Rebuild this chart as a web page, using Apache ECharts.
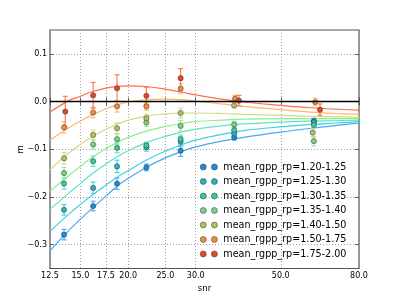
<!DOCTYPE html>
<html><head><meta charset="utf-8">
<script src="https://cdn.jsdelivr.net/npm/echarts@6/dist/echarts.min.js"></script>
<style>html,body{margin:0;padding:0;background:#fff}#c{width:399px;height:299px}</style>
</head><body><div id="c"></div>
<script>
// ---- data ----
const xTicks = [12.5, 15.0, 17.5, 20.0, 25.0, 30.0, 50.0, 80.0];
const yTicks = [-0.3, -0.2, -0.1, 0.0, 0.1];
const seriesNames = ['mean_rgpp_rp=1.20-1.25','mean_rgpp_rp=1.25-1.30','mean_rgpp_rp=1.30-1.35','mean_rgpp_rp=1.35-1.40','mean_rgpp_rp=1.40-1.50','mean_rgpp_rp=1.50-1.75','mean_rgpp_rp=1.75-2.00'];

const snr_120 = [13.6, 16.2, 18.7, 22.3, 27.4, 37.8, 61.0];
const m_120   = [-0.279, -0.219, -0.172, -0.138, -0.103, -0.075, -0.041];
const err_120 = [0.011, 0.010, 0.012, 0.007, 0.012, 0.006, 0.006];

const snr_125 = [13.6, 16.2, 18.7, 22.3, 27.4, 37.8, 61.0];
const m_125   = [-0.227, -0.181, -0.136, -0.096, -0.084, -0.067, -0.043];
const err_125 = [0.011, 0.012, 0.013, 0.008, 0.010, 0.006, 0.006];

const snr_130 = [13.6, 16.2, 18.7, 22.3, 27.4, 37.8, 61.0];
const m_130   = [-0.172, -0.125, -0.097, -0.092, -0.079, -0.060, -0.049];
const err_130 = [0.012, 0.011, 0.010, 0.007, 0.009, 0.006, 0.007];

const snr_135 = [13.6, 16.2, 18.7, 22.3, 27.4, 37.8, 61.0];
const m_135   = [-0.150, -0.090, -0.079, -0.044, -0.051, -0.048, -0.083];
const err_135 = [0.012, 0.010, 0.011, 0.008, 0.011, 0.007, 0.010];

const snr_140 = [13.6, 16.2, 18.7, 22.3, 27.4, 37.8, 60.6];
const m_140   = [-0.119, -0.070, -0.056, -0.035, -0.024, -0.008, -0.065];
const err_140 = [0.012, 0.010, 0.011, 0.008, 0.010, 0.006, 0.010];

const snr_150 = [13.6, 16.2, 18.7, 22.3, 27.4, 38.0, 61.5];
const m_150   = [-0.054, -0.023, -0.010, -0.010, 0.027, 0.006, -0.001];
const err_150 = [0.012, 0.011, 0.012, 0.008, 0.010, 0.007, 0.008];

const snr_175 = [13.7, 16.2, 18.7, 22.3, 27.4, 38.9, 63.3];
const m_175   = [-0.021, 0.013, 0.028, 0.012, 0.049, 0.002, -0.017];
const err_175 = [0.032, 0.027, 0.028, 0.018, 0.020, 0.011, 0.012];

// fitted curves, sampled at these snr values
const curveSnr  = [12.5, 14, 15, 16, 17.5, 18.75, 20, 22.5, 25, 27.5, 30, 35, 40, 50, 60, 70, 80];
const curve_120 = [-0.313, -0.270, -0.247, -0.226, -0.198, -0.177, -0.161, -0.136, -0.118, -0.105, -0.095, -0.083, -0.075, -0.064, -0.056, -0.050, -0.045];
const curve_125 = [-0.272, -0.236, -0.216, -0.198, -0.175, -0.158, -0.145, -0.121, -0.104, -0.091, -0.081, -0.069, -0.061, -0.053, -0.048, -0.045, -0.042];
const curve_130 = [-0.226, -0.192, -0.172, -0.153, -0.131, -0.115, -0.103, -0.085, -0.073, -0.064, -0.058, -0.051, -0.047, -0.043, -0.041, -0.040, -0.039];
const curve_135 = [-0.188, -0.155, -0.136, -0.119, -0.099, -0.085, -0.075, -0.061, -0.052, -0.046, -0.042, -0.039, -0.037, -0.036, -0.036, -0.036, -0.036];
const curve_140 = [-0.143, -0.108, -0.090, -0.075, -0.058, -0.047, -0.039, -0.030, -0.026, -0.024, -0.024, -0.025, -0.027, -0.029, -0.031, -0.032, -0.033];
const curve_150 = [-0.081, -0.055, -0.041, -0.029, -0.015, -0.007, -0.001, 0.004, 0.005, 0.004, 0.001, -0.005, -0.010, -0.017, -0.022, -0.025, -0.027];
const curve_175 = [-0.022, 0.002, 0.011, 0.020, 0.028, 0.032, 0.033, 0.031, 0.026, 0.020, 0.014, 0.005, -0.001, -0.008, -0.013, -0.016, -0.018];

const zeroLine = 0.0;

// ---- styling ----
const markerColors = ['#1e8cdc', '#28b4be', '#3cc8a0', '#78d282', '#b4be64', '#f08c3c', '#e6462a'];
const curveColors  = ['#46a8f4', '#3cd2e6', '#5ae6c3', '#8cf08c', '#d2dc82', '#ffb46e', '#ff6e46'];
const FONT = 'DejaVu Sans';

const groups = [
  [snr_120, m_120, err_120, curve_120],
  [snr_125, m_125, err_125, curve_125],
  [snr_130, m_130, err_130, curve_130],
  [snr_135, m_135, err_135, curve_135],
  [snr_140, m_140, err_140, curve_140],
  [snr_150, m_150, err_150, curve_150],
  [snr_175, m_175, err_175, curve_175]
];
const L = v => Math.log10(v);

const series = [];
groups.forEach((g, i) => {
  const [sx, sm, se, sc] = g;
  series.push({
    name: '_curve' + i, type: 'line', showSymbol: false, smooth: 0.4, silent: true,
    data: curveSnr.map((x, k) => [L(x), sc[k]]),
    lineStyle: { color: curveColors[i], width: 1.2 }, z: 2,
    markLine: i === 0 ? {
      silent: true, symbol: 'none', label: { show: false },
      lineStyle: { color: '#000', width: 1.4, type: 'solid' },
      data: [{ yAxis: zeroLine }]
    } : undefined
  });
  const col = curveColors[i];
  series.push({
    name: '_err' + i, type: 'custom', silent: true, z: 3,
    encode: { x: 0, y: [1, 2] },
    data: sx.map((x, k) => [L(x), sm[k] - se[k], sm[k] + se[k]]),
    renderItem: (params, api) => {
      const x = api.value(0);
      const p1 = api.coord([x, api.value(1)]);
      const p2 = api.coord([x, api.value(2)]);
      const hw = 2.5;
      const st = { stroke: col, lineWidth: 1.2, opacity: 0.9 };
      return { type: 'group', children: [
        { type: 'line', shape: { x1: p1[0], y1: p1[1], x2: p2[0], y2: p2[1] }, style: st },
        { type: 'line', shape: { x1: p1[0] - hw, y1: p1[1], x2: p1[0] + hw, y2: p1[1] }, style: st },
        { type: 'line', shape: { x1: p2[0] - hw, y1: p2[1], x2: p2[0] + hw, y2: p2[1] }, style: st }
      ]};
    }
  });
  series.push({
    name: seriesNames[i], type: 'scatter', symbol: 'circle', symbolSize: 5.2, z: 4,
    data: sx.map((x, k) => [L(x), sm[k]]),
    itemStyle: { color: markerColors[i], borderColor: '#333', borderWidth: 0.5, opacity: 1 }
  });
});

const legendIcon = 'path://M0.5,4a3.5,3.5 0 1,0 7,0a3.5,3.5 0 1,0 -7,0z M13.5,4a3.5,3.5 0 1,0 7,0a3.5,3.5 0 1,0 -7,0z';

const xLogTicks = xTicks.map(L);
const grid = { left: 50, top: 30, right: 40, bottom: 30.5, show: true, borderColor: '#555', borderWidth: 1.2, backgroundColor: '#fff' };
const gridLine = { show: true, lineStyle: { color: '#888', type: [1, 2], width: 0.8 } };
const tickStyle = { show: true, inside: true, length: 4, lineStyle: { color: '#444', width: 0.8 } };

const option = {
  animation: false,
  backgroundColor: '#fff',
  textStyle: { fontFamily: FONT },
  grid: grid,
  xAxis: [{
    type: 'value', min: L(12.5), max: L(80), position: 'bottom',
    name: 'snr', nameLocation: 'middle', nameGap: 12,
    nameTextStyle: { fontFamily: FONT, fontSize: 8.5, color: '#000' },
    axisLine: { show: false },
    axisTick: Object.assign({ customValues: xLogTicks }, tickStyle),
    axisLabel: { customValues: xLogTicks, fontFamily: FONT, fontSize: 8, color: '#000', margin: 3,
      formatter: v => Math.pow(10, v).toFixed(1) },
    splitLine: gridLine
  }, {
    type: 'value', min: L(12.5), max: L(80), position: 'top',
    axisLine: { show: false },
    axisTick: Object.assign({ customValues: xLogTicks }, tickStyle),
    axisLabel: { show: false }, splitLine: { show: false }
  }],
  yAxis: [{
    type: 'value', min: -0.35, max: 0.15, position: 'left',
    name: 'm', nameLocation: 'middle', nameGap: 25, nameMoveOverlap: false,
    nameTextStyle: { fontFamily: FONT, fontSize: 8.5, color: '#000' },
    axisLine: { show: false },
    axisTick: Object.assign({ customValues: yTicks }, tickStyle),
    axisLabel: { customValues: yTicks, fontFamily: FONT, fontSize: 8, color: '#000', margin: 3,
      formatter: v => v.toFixed(1).replace('-', '\u2212') },
    splitLine: gridLine
  }, {
    type: 'value', min: -0.35, max: 0.15, position: 'right',
    axisLine: { show: false },
    axisTick: Object.assign({ customValues: yTicks }, tickStyle),
    axisLabel: { show: false }, splitLine: { show: false }
  }],
  legend: {
    data: seriesNames.map(n => ({ name: n, icon: legendIcon, itemStyle: { borderColor: '#333', borderWidth: 0.5 } })),
    orient: 'vertical', left: 200, top: 161, padding: 0,
    itemWidth: 19, itemHeight: 6, itemGap: 2.5,
    textStyle: { fontFamily: FONT, fontSize: 9.6, color: '#000', lineHeight: 12 },
    selectedMode: false
  },
  series: series
};

const chart = echarts.init(document.getElementById('c'), null, { renderer: 'canvas' });
chart.setOption(option);
</script>
</body></html>
